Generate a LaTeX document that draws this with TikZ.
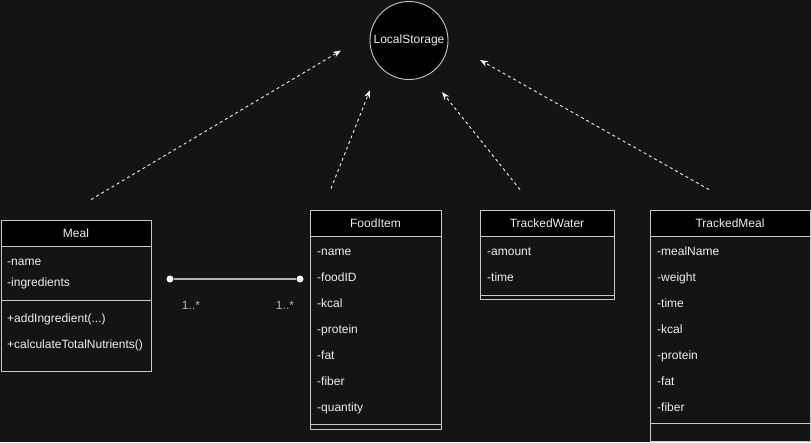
\documentclass[tikz,border=0pt]{standalone}
\usepackage{fontspec}
\setmainfont{Liberation Sans}
\usetikzlibrary{arrows.meta}
\definecolor{canvas}{HTML}{141414}
\definecolor{edgegrey}{HTML}{C8C8C8}
\definecolor{textgrey}{HTML}{EEEEEE}
\definecolor{labelgrey}{HTML}{B4B4B4}
\begin{document}
\begin{tikzpicture}
[x=1pt,y=-1pt,
  classDecorate/.style={draw=edgegrey,line width=0.9pt,fill=canvas,inner sep=0pt},%
  headDecorate/.style={draw=edgegrey,line width=0.9pt,fill=black,text=textgrey,inner sep=0pt,
    minimum height=26pt,text height=8.6pt,text depth=0pt,font=\fontsize{12}{14}\selectfont},%
  attrDecorate/.style={anchor=base west,inner sep=0pt,text=textgrey,font=\fontsize{12}{14}\selectfont},%
  lineDecorate/.style={draw=edgegrey,line width=0.9pt},%
  dependDecorate/.style={draw=textgrey,line width=0.9pt,dash pattern=on 3pt off 3pt,
    -{Stealth[length=8pt,width=6pt,inset=2.5pt]}},%
  assocDecorate/.style={draw=labelgrey,line width=1.3pt},%
  dotDecorate/.style={shape=circle,fill=white,inner sep=0pt,minimum size=7pt},%
  multDecorate/.style={anchor=base,inner sep=0pt,text=labelgrey,font=\fontsize{12}{14}\selectfont}]
\useasboundingbox[fill=canvas] (0,0) rectangle (811,442);
%% storage
\node (storage) at (409,40.5) [shape=circle,draw=edgegrey,line width=0.9pt,fill=black,
  minimum size=78pt,inner sep=0pt,text=textgrey,font=\fontsize{12}{14}\selectfont] {LocalStorage};
%% classes
\foreach \boxname/\cx/\cy/\w/\h/\title in {
  meal/76/295.5/150/151/Meal, food/375.5/319.5/131/219/FoodItem,
  water/547/254.5/134/89/TrackedWater, tracked/730/325.5/160/231/TrackedMeal}
{
  \node (\boxname) at (\cx,\cy) [classDecorate,minimum width=\w,minimum height=\h] {};
  \node (\boxname-head) at (\boxname.north) [headDecorate,anchor=north,minimum width=\w] {\title};
}
\foreach \boxname/\y in {meal/300, food/424, water/295, tracked/423}
{
  \draw[lineDecorate] (\boxname.west |- 0,\y) -- (\boxname.east |- 0,\y);
}
%% attributes and operations
\foreach \x/\y/\attr in {
  7/265/-name, 7/286/-ingredients, 7/322/{+addIngredient(...)}, 7/348/{+calculateTotalNutrients()},
  317/255/-name, 317/281/-foodID, 317/307/-kcal, 317/333/-protein, 317/359/-fat, 317/385/-fiber, 317/411/-quantity,
  487/255/-amount, 487/281/-time,
  657/255/-mealName, 657/281/-weight, 657/307/-time, 657/333/-kcal, 657/359/-protein, 657/385/-fat, 657/411/-fiber}
{
  \node [attrDecorate] at (\x,\y) {\attr};
}
%% association
\node (assocL) at (170,279) [dotDecorate] {};
\node (assocR) at (300,279) [dotDecorate] {};
\draw[assocDecorate] (assocL) -- (assocR);
\node [multDecorate] at (191,309) {1..*};
\node [multDecorate] at (285,309) {1..*};
%% dependencies
\foreach \src/\sx/\sy/\tx/\ty in {
  meal/15/-20/-68/10, food/-44.5/-21/-39/49.5, water/-27/-20/33/51.5, tracked/-21/-20/71/19.5}
{
  \coordinate (\src-out) at ([shift={(\sx,\sy)}]\src.north);
  \coordinate (\src-in) at ([shift={(\tx,\ty)}]storage.center);
  \draw[dependDecorate] (\src-out) -- (\src-in);
}
\end{tikzpicture}
\end{document}
